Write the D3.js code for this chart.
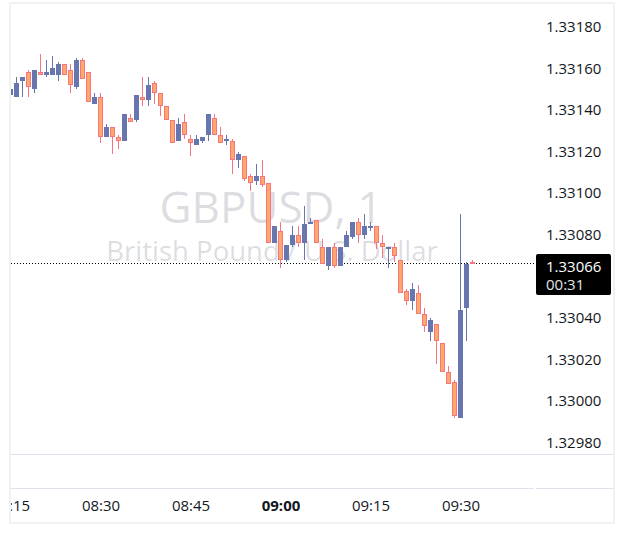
<!DOCTYPE html>
<html>
<head>
<meta charset="utf-8">
<script src="https://cdn.jsdelivr.net/npm/d3@7"></script>
<style>
  body { margin: 0; background: #ffffff; }
  svg { display: block; }
  text { font-family: "Open Sans", "Noto Sans", sans-serif; }
</style>
</head>
<body>
<svg id="chart" width="623" height="542"></svg>
<script>
// one minute bars, GBPUSD
var times = [
  "08:15","08:16","08:17","08:18","08:19","08:20","08:21","08:22","08:23","08:24",
  "08:25","08:26","08:27","08:28","08:29","08:30","08:31","08:32","08:33","08:34",
  "08:35","08:36","08:37","08:38","08:39","08:40","08:41","08:42","08:43","08:44",
  "08:45","08:46","08:47","08:48","08:49","08:50","08:51","08:52","08:53","08:54",
  "08:55","08:56","08:57","08:58","08:59","09:00","09:01","09:02","09:03","09:04",
  "09:05","09:06","09:07","09:08","09:09","09:10","09:11","09:12","09:13","09:14",
  "09:15","09:16","09:17","09:18","09:19","09:20","09:21","09:22","09:23","09:24",
  "09:25","09:26","09:27","09:28","09:29","09:30","09:31","09:32"
];
var opens = [
  1.33147,1.33146,1.33154,1.33158,1.33150,1.33158,1.33157,1.33157,1.33157,1.33162,
  1.33159,1.33151,1.33164,1.33158,1.33143,1.33146,1.33127,1.33132,1.33127,1.33125,
  1.33136,1.33135,1.33146,1.33145,1.33153,1.33148,1.33142,1.33135,1.33125,1.33134,
  1.33126,1.33123,1.33125,1.33128,1.33136,1.33128,1.33125,1.33125,1.33116,1.33118,
  1.33108,1.33106,1.33108,1.33105,1.33076,1.33082,1.33068,1.33075,1.33080,1.33076,
  1.33085,1.33087,1.33074,1.33065,1.33074,1.33065,1.33074,1.33079,1.33086,1.33080,
  1.33083,1.33084,1.33076,1.33073,1.33074,1.33068,1.33053,1.33048,1.33052,1.33042,
  1.33033,1.33037,1.33028,1.33014,1.33009,1.32992,1.33045,1.33067
];
var highs = [
  1.33154,1.33156,1.33156,1.33159,1.33159,1.33167,1.33164,1.33166,1.33163,1.33162,
  1.33162,1.33165,1.33165,1.33158,1.33148,1.33148,1.33133,1.33132,1.33128,1.33138,
  1.33138,1.33147,1.33156,1.33156,1.33154,1.33148,1.33142,1.33135,1.33136,1.33138,
  1.33128,1.33128,1.33127,1.33138,1.33138,1.33132,1.33128,1.33126,1.33120,1.33118,
  1.33109,1.33114,1.33116,1.33105,1.33084,1.33086,1.33075,1.33084,1.33084,1.33094,
  1.33088,1.33087,1.33078,1.33074,1.33076,1.33074,1.33082,1.33086,1.33088,1.33090,
  1.33086,1.33084,1.33080,1.33074,1.33076,1.33068,1.33054,1.33057,1.33056,1.33045,
  1.33040,1.33037,1.33028,1.33017,1.33010,1.33090,1.33067,1.33068
];
var lows = [
  1.33146,1.33146,1.33146,1.33146,1.33148,1.33157,1.33156,1.33157,1.33154,1.33157,
  1.33148,1.33150,1.33155,1.33144,1.33143,1.33124,1.33127,1.33119,1.33121,1.33125,
  1.33134,1.33134,1.33142,1.33142,1.33143,1.33137,1.33135,1.33124,1.33125,1.33126,
  1.33118,1.33123,1.33124,1.33125,1.33128,1.33124,1.33123,1.33109,1.33112,1.33106,
  1.33101,1.33104,1.33103,1.33076,1.33076,1.33064,1.33067,1.33074,1.33074,1.33068,
  1.33085,1.33076,1.33066,1.33063,1.33064,1.33065,1.33074,1.33078,1.33076,1.33078,
  1.33082,1.33073,1.33069,1.33064,1.33067,1.33052,1.33046,1.33044,1.33042,1.33033,
  1.33029,1.33018,1.33014,1.33008,1.32992,1.32992,1.33029,1.33066
];
var closes = [
  1.33150,1.33153,1.33156,1.33151,1.33159,1.33157,1.33158,1.33160,1.33162,1.33157,
  1.33152,1.33164,1.33155,1.33144,1.33146,1.33127,1.33132,1.33127,1.33125,1.33138,
  1.33134,1.33147,1.33145,1.33152,1.33148,1.33142,1.33135,1.33124,1.33133,1.33128,
  1.33124,1.33126,1.33127,1.33138,1.33128,1.33124,1.33126,1.33116,1.33119,1.33107,
  1.33105,1.33108,1.33104,1.33076,1.33084,1.33068,1.33075,1.33080,1.33076,1.33085,
  1.33086,1.33076,1.33066,1.33074,1.33065,1.33074,1.33080,1.33086,1.33080,1.33084,
  1.33084,1.33076,1.33074,1.33074,1.33070,1.33052,1.33048,1.33054,1.33042,1.33036,
  1.33039,1.33029,1.33014,1.33008,1.32993,1.33044,1.33066,1.33066
];

var priceTicks = [1.33180, 1.33160, 1.33140, 1.33120, 1.33100, 1.33080, 1.33040, 1.33020, 1.33000, 1.32980];
var timeTicks = ["08:15", "08:30", "08:45", "09:00", "09:15", "09:30"];
var lastPrice = 1.33066;
var countdown = "00:31";
var symbol = "GBPUSD, 1";
var description = "British Pound / U.S. Dollar";

var upColor = "#6876b0";
var downFill = "#ffa86a";
var downBorder = "#f7757f";
var textColor = "#131722";

var parseTime = d3.timeParse("%H:%M");
var bars = times.map(function(t, i){
  return {t: parseTime(t), o: opens[i], h: highs[i], l: lows[i], c: closes[i]};
});

var svg = d3.select("#chart");

var x = d3.scaleTime()
  .domain([parseTime("08:15"), parseTime("09:30")])
  .range([10.5, 460.5]);
var y = d3.scaleLinear()
  .domain([1.32980, 1.33180])
  .range([442.7, 26.7]);

var defs = svg.append("defs");
defs.append("clipPath").attr("id", "plotClip")
  .append("rect").attr("x", 11).attr("y", 4).attr("width", 524).attr("height", 450);
defs.append("clipPath").attr("id", "timeClip")
  .append("rect").attr("x", 11).attr("y", 489).attr("width", 524).attr("height", 33);

// watermark
var wm = svg.append("g").attr("clip-path", "url(#plotClip)");
wm.append("text")
  .attr("x", 271).attr("y", 223)
  .attr("text-anchor", "middle")
  .attr("font-size", "44px")
  .attr("fill", "rgba(117,121,134,0.25)")
  .text(symbol);
wm.append("text")
  .attr("x", 272).attr("y", 261)
  .attr("text-anchor", "middle")
  .attr("font-size", "27.5px")
  .attr("fill", "rgba(117,121,134,0.25)")
  .text(description);

// last price dotted line
var lastY = Math.round(y(lastPrice)) - 0.5;
svg.append("line")
  .attr("x1", 11).attr("x2", 535)
  .attr("y1", lastY).attr("y2", lastY)
  .attr("stroke", "#000")
  .attr("stroke-width", 1)
  .attr("stroke-dasharray", "1,2");

// candles
var plot = svg.append("g").attr("clip-path", "url(#plotClip)");
bars.forEach(function(d){
  var cx = x(d.t);
  var up = d.c >= d.o;
  var top = Math.round(y(Math.max(d.o, d.c)));
  var bot = Math.round(y(Math.min(d.o, d.c)));
  var bh = Math.max(1, bot - top);
  var wt = Math.round(y(d.h));
  var wb = Math.round(y(d.l));
  plot.append("rect")
    .attr("x", cx - 0.5).attr("width", 1)
    .attr("y", wt).attr("height", Math.max(1, wb - wt))
    .attr("fill", up ? upColor : downBorder);
  plot.append("rect")
    .attr("x", cx - 2.5).attr("width", 5)
    .attr("y", top).attr("height", bh)
    .attr("fill", up ? upColor : downBorder);
  if(!up && bh > 2){
    plot.append("rect")
      .attr("x", cx - 1.5).attr("width", 3)
      .attr("y", top + 1).attr("height", bh - 2)
      .attr("fill", downFill);
  }
});

// price scale
var yAxis = svg.append("g")
  .attr("transform", "translate(546,0)")
  .call(d3.axisRight(y).tickValues(priceTicks).tickSize(0).tickPadding(0).tickFormat(d3.format(".5f")));
yAxis.select(".domain").remove();
yAxis.selectAll("text")
  .attr("font-family", "'Open Sans', 'Noto Sans', sans-serif")
  .attr("font-size", "15px")
  .attr("fill", textColor);

// last price label
var labelG = svg.append("g");
labelG.append("rect")
  .attr("x", 536).attr("y", Math.round(y(lastPrice)) - 10)
  .attr("width", 75).attr("height", 41)
  .attr("rx", 2)
  .attr("fill", "#000");
labelG.append("text")
  .attr("x", 546).attr("y", Math.round(y(lastPrice)) + 8)
  .attr("font-size", "15px")
  .attr("fill", "#ffffff")
  .text(d3.format(".5f")(lastPrice));
labelG.append("text")
  .attr("x", 546).attr("y", Math.round(y(lastPrice)) + 26)
  .attr("font-size", "15px")
  .attr("fill", "#e3e5ea")
  .text(countdown);

// time scale
var xAxis = svg.append("g")
  .attr("clip-path", "url(#timeClip)")
  .append("g")
  .attr("transform", "translate(0,500)")
  .call(d3.axisBottom(x).tickValues(timeTicks.map(parseTime)).tickSize(0).tickPadding(0).tickFormat(d3.timeFormat("%H:%M")));
xAxis.select(".domain").remove();
xAxis.selectAll("text")
  .attr("font-family", "'Open Sans', 'Noto Sans', sans-serif")
  .attr("font-size", "15px")
  .attr("fill", textColor)
  .attr("font-weight", function(d){ return d3.timeFormat("%H:%M")(d) == "09:00" ? "bold" : "normal"; });

// pane separators and frame
svg.append("line")
  .attr("x1", 11).attr("x2", 613).attr("y1", 454.5).attr("y2", 454.5)
  .attr("stroke", "#e0e3eb");
svg.append("line")
  .attr("x1", 11).attr("x2", 534).attr("y1", 488.5).attr("y2", 488.5)
  .attr("stroke", "#e0e3eb");
svg.append("line")
  .attr("x1", 536).attr("x2", 613).attr("y1", 488.5).attr("y2", 488.5)
  .attr("stroke", "#e0e3eb");
svg.append("rect")
  .attr("x", 10).attr("y", 3)
  .attr("width", 604).attr("height", 520)
  .attr("fill", "none")
  .attr("stroke", "#f2f2f2")
  .attr("stroke-width", 2);
</script>
</body>
</html>
